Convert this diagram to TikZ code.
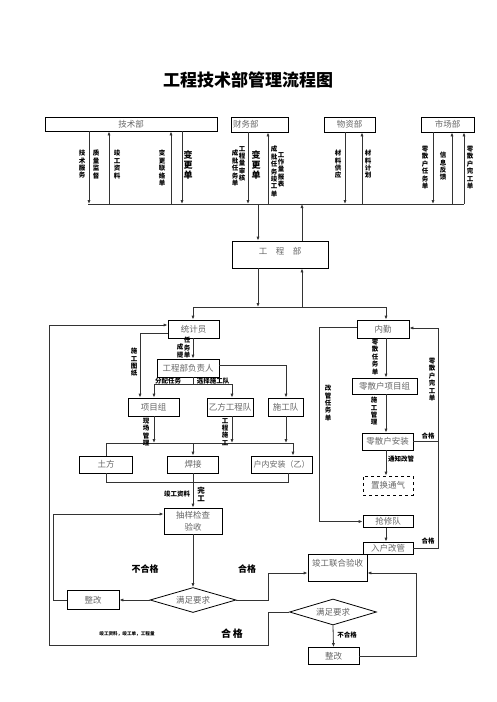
\documentclass[tikz,border=0pt]{standalone}
\usepackage{fontspec}
\usetikzlibrary{arrows.meta,shapes.geometric}
\newfontfamily\cjk{Noto Sans CJK SC}
\newcommand\boxfont{\cjk\fontsize{8.5}{10}\selectfont}
\newcommand\labfont{\cjk\bfseries\fontsize{6.5}{7.4}\selectfont}
\newcommand\bigfont{\cjk\bfseries\fontsize{9}{10}\selectfont}
\begin{document}
\begin{tikzpicture}[x=1pt,y=-1pt,
  box/.style={draw, line width=0.8pt, inner sep=1pt, font=\boxfont, text=black!60},
  dia/.style={draw, line width=0.8pt, diamond, aspect=3.4, inner sep=0pt, font=\boxfont, text=black!60},
  lab/.style={font=\labfont, inner sep=0pt, align=center},
  labn/.style={lab, anchor=north},
  ln/.style={draw=black!80, line width=0.8pt},
  arr/.style={ln, -{Latex[length=4pt,width=3.2pt]}}]
\fill[white] (0,0) rectangle (496,702);
\useasboundingbox (0,0) rectangle (496,702);

% title
\node[font=\cjk\bfseries\fontsize{17}{20}\selectfont] (title) at (248,80) {工程技术部管理流程图};

% top boxes
\node[box, minimum width=172pt, minimum height=14pt] (tech) at (131,124) {技术部};
\node[box, minimum width=57pt, minimum height=15pt, text width=53pt, align=left] (fin) at (259.5,124.5) {财务部};
\node[box, minimum width=51pt, minimum height=15pt] (mat) at (349.5,124.5) {物资部};
\node[box, minimum width=53pt, minimum height=15pt] (mkt) at (447.5,124.5) {市场部};

\coordinate (busL) at (88,204);
\coordinate (busR) at (464,204);
\draw[ln] (busL) -- (busR);

% top arrows
\draw[arr] (89,0 |- tech.south) -- (89,0 |- busL);
\draw[arr] (109,0 |- busL) -- (109,0 |- tech.south);
\draw[arr] (171,0 |- busL) -- (171,0 |- tech.south);
\draw[arr] (182,0 |- tech.south) -- (182,0 |- busL);
\draw[arr] (248,0 |- fin.south) -- (248,0 |- busL);
\draw[arr] (268,0 |- busL) -- (268,0 |- fin.south);
\draw[arr] (345,0 |- mat.south) -- (345,0 |- busL);
\draw[arr] (362,0 |- busL) -- (362,0 |- mat.south);
\draw[arr] (433,0 |- mkt.south) -- (433,0 |- busL);
\draw[arr] (452,0 |- busL) -- (452,0 |- mkt.south);
\draw[arr] (busR) -- (464,0 |- mkt.south);

% top labels
\node[labn] (l1) at (82,150) {技\\术\\服\\务};
\node[labn] (l2) at (96,150) {质\\量\\监\\督};
\node[labn] (l3) at (117,150) {竣\\工\\资\\料};
\node[labn] (l4) at (162,150) {变\\更\\联\\络\\单};
\node[labn, font=\bigfont] (l5) at (188,150) {变\\更\\单};
\node[labn] (l6) at (235,150) {成\\批\\任\\务\\单};
\node[labn] (l7) at (242,146) {工\\程\\量\\审\\核};
\node[labn, font=\bigfont] (l8) at (256,150) {变\\更\\单};
\node[labn] (l9) at (274,146) {成\\批\\任\\务\\竣\\工\\单};
\node[labn] (l10) at (281,152) {工\\作\\量\\报\\表};
\node[labn] (l11) at (338,150) {材\\料\\供\\应};
\node[labn] (l12) at (368,150) {材\\料\\计\\划};
\node[labn] (l13) at (425,146) {零\\散\\户\\任\\务\\单};
\node[labn] (l14) at (443,152) {信\\息\\反\\馈};
\node[labn] (l15) at (470,146) {零\\散\\户\\完\\工\\单};

% engineering dept
\node[box, minimum width=96pt, minimum height=27pt,
  label={[anchor=north, yshift=-3pt, font=\boxfont, text=black!60]north:工\quad 程\quad 部}] (gcb) at (280,254.5) {};
\draw[arr] (258,0 |- busL) -- (258,0 |- gcb.north);
\draw[arr] (302,0 |- gcb.north) -- (302,0 |- busL);

\coordinate (b0L) at (193,307);
\coordinate (b0R) at (386,307);
\draw[arr] (258,0 |- gcb.south) -- (258,0 |- b0L);
\draw[arr] (302,0 |- b0L) -- (302,0 |- gcb.south);
\draw[ln] (b0L) -- (b0R);

% left branch boxes
\node[box, minimum width=51pt, minimum height=18pt] (tjy) at (193.5,329) {统计员};
\node[box, minimum width=52pt, minimum height=18pt] (nq) at (383,329) {内勤};
\draw[arr] (b0L) -- (193,0 |- tjy.north);
\draw[arr] (b0R) -- (386,0 |- nq.north);

\node[box, minimum width=62pt, minimum height=18pt] (fzr) at (188,368) {工程部负责人};
\node[box, minimum width=51pt, minimum height=18pt] (xmz) at (153.5,407) {项目组};
\node[box, minimum width=46pt, minimum height=18pt] (yf) at (230,407) {乙方工程队};
\node[box, minimum width=35pt, minimum height=18pt] (sgd) at (285.5,407) {施工队};

\draw[arr] (193,0 |- tjy.south) -- (193,0 |- fzr.north);
\draw[arr] ([yshift=-4pt]tjy.west) -| (140,0 |- xmz.north);
\draw[arr] ([yshift=3pt]fzr.east) -| (286,0 |- sgd.north);
\coordinate (b1) at (193,384);
\draw[ln] (193,0 |- fzr.south) -- (b1);
\draw[arr] (b1) -| (154,0 |- xmz.north);
\draw[arr] (b1) -| (232,0 |- yf.north);

\node[labn] (l16) at (134,348) {施\\工\\图\\纸};
\node[labn] (l17a) at (180,344) {成\\提};
\node[labn] (l17b) at (187,337) {任\\务\\单};
\node[lab] (l18) at (168,381) {分配任务};
\node[lab] (l19) at (213,381) {选择施工队};

% work row
\node[box, minimum width=53pt, minimum height=17pt] (tf) at (106,464.5) {土方};
\node[box, minimum width=51pt, minimum height=17pt] (hj) at (193,464.5) {焊接};
\node[box, minimum width=61pt, minimum height=17pt, font=\cjk\fontsize{8}{9}\selectfont] (hn) at (281.5,464.5) {户内安装（乙）};

\coordinate (b2L) at (106,443);
\coordinate (b2R) at (293,443);
\draw[ln] (b2L) -- (b2R);
\draw[arr] (154,0 |- xmz.south) -- (154,0 |- b2L);
\draw[arr] (232,0 |- yf.south) -- (232,0 |- b2L);
\draw[arr] (286,0 |- sgd.south) -- (286,0 |- b2L);
\draw[ln] (b2L) -- (tf.north);
\draw[arr] (193,0 |- b2L) -- (hj.north);
\draw[arr] (b2R) -- (293,0 |- hn.north);

\node[labn] (l20) at (146,418) {现\\场\\管\\理};
\node[labn] (l21) at (225,418) {工\\程\\施\\工};

\coordinate (b3L) at (106,482);
\coordinate (b3R) at (288,482);
\draw[ln] (tf.south) -- (b3L) -- (b3R) -- (288,0 |- hn.south);

\node[box, minimum width=58pt, minimum height=26pt, align=center, font=\cjk\fontsize{8.5}{12}\selectfont] (cy) at (193,521) {抽样检查\\验收};
\draw[arr] (hj.south) -- (cy.north);
\node[lab] (l22) at (177,494) {竣工资料};
\node[labn, font=\cjk\bfseries\fontsize{7.5}{8}\selectfont] (l23) at (201,487) {完\\工};

% inspection
\node[dia, minimum width=86pt, minimum height=25pt] (d1) at (193,600) {满足要求};
\node[box, minimum width=52pt, minimum height=19pt] (zg1) at (93,600) {整改};
\draw[arr] (cy.south) -- (d1.north);
\draw[arr] (d1.west) -- (zg1.east);
\coordinate (c4) at (53,514);
\draw[arr] (zg1.west) -| (c4) -- ([yshift=7pt]cy.west);

\node[lab, font=\bigfont] (l24) at (145,569) {不合格};
\node[lab, font=\bigfont] (l25) at (247,569) {合格};

\node[box, minimum width=59pt, minimum height=27pt,
  label={[anchor=north, yshift=-2pt, font=\boxfont, text=black!60]north:竣工联合验收}] (jg) at (337.5,567.5) {};
\coordinate (c3) at (268,573);
\draw[arr] (d1.east) -| (c3) -- ([yshift=-5.5pt]jg.west);

\node[dia, minimum width=87pt, minimum height=26pt] (d2) at (333,612) {满足要求};
\node[box, minimum width=51pt, minimum height=17pt] (zg2) at (333.5,656) {整改};
\draw[arr] (d2.south) -- (zg2.north);
\coordinate (c5) at (416,656);
\draw[arr] (zg2.east) -- (c5) |- ([yshift=-5.5pt]jg.east);
\node[lab, font=\cjk\bfseries\fontsize{6.5}{7}\selectfont] (l28) at (347,635) {不合格};

% big return loop
\coordinate (c1) at (268,645);
\coordinate (c2) at (49,645);
\draw[arr] (d2.west) -| (c1) -- (c2) |- ([yshift=4pt]tjy.west);
\node[lab, font=\cjk\bfseries\fontsize{4.6}{5}\selectfont] (l26) at (127,634) {竣工资料，竣工单，工程量};
\node[lab, font=\cjk\bfseries\fontsize{10}{11}\selectfont] (l27) at (232,634) {合\,格};

% right branch
\node[box, minimum width=65pt, minimum height=16pt] (lsx) at (384.5,386) {零散户项目组};
\node[box, minimum width=51pt, minimum height=17pt] (lsaz) at (387.5,441.5) {零散户安装};
\node[box, dashed, minimum width=50pt, minimum height=19pt] (zh) at (388,485.5) {置换通气};
\node[box, minimum width=50pt, minimum height=12pt] (qx) at (388,521.5) {抢修队};
\node[box, minimum width=50pt, minimum height=12pt] (rh) at (388,548) {入户改管};

\draw[arr] (386,0 |- nq.south) -- (386,0 |- lsx.north);
\draw[arr] (386,0 |- lsx.south) -- (386,0 |- lsaz.north);
\draw[arr] (386,0 |- lsaz.south) -- (386,0 |- zh.north);
\draw[arr] (386,0 |- qx.south) -- (386,0 |- rh.north);
\draw[arr] ([yshift=2pt]nq.west) -- ++(-37,0) |- (qx.west);
\coordinate (rx) at (438,548);
\draw[arr] (rh.east) -- (rx) |- ([yshift=1pt]nq.east);
\draw[ln] (lsaz.east) -- (lsaz.east -| rx);

\node[labn] (l29) at (375,339) {零\\散\\任\\务\\单};
\node[labn] (l30) at (374,397) {施\\工\\管\\理};
\node[lab] (l31) at (401,459) {通知改管};
\node[lab] (l32) at (428,436) {合格};
\node[lab] (l33) at (428,541) {合格};
\node[labn] (l34) at (432,358) {零\\散\\户\\完\\工\\单};
\node[labn] (l35) at (328,385) {改\\管\\任\\务\\单};
\end{tikzpicture}
\end{document}
